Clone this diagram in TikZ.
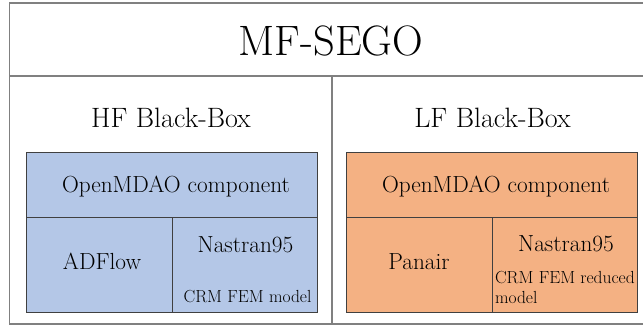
\documentclass[tikz,border=0pt]{standalone}
\definecolor{hfblue}{HTML}{B4C7E7}
\definecolor{lforange}{HTML}{F4B183}
\begin{document}
\begin{tikzpicture}[x=1pt, y=-1pt]
        \tikzstyle{every node}=[inner sep=0pt, outer sep=0pt]
        \tikzstyle{frame}=[draw=black!50, line width=1.1pt]
        \tikzstyle{cell}=[rectangle, draw=black!75, line width=0.9pt]
        \tikzstyle{big}=[anchor=base, font=\fontsize{42.5}{48}\selectfont]
        \tikzstyle{mid}=[anchor=base, font=\fontsize{28}{32}\selectfont]
        \tikzstyle{txt}=[anchor=base, font=\fontsize{23.3}{27}\selectfont]
        \tikzstyle{small}=[anchor=base, font=\fontsize{17.5}{20}\selectfont]
        \useasboundingbox (0,0) rectangle (643,325);
        % outer frame
        \coordinate (tl) at (9.5,3);
        \coordinate (br) at (647,324);
        \coordinate (hl) at (9.5,76);
        \coordinate (hr) at (647,76);
        \coordinate (dt) at (332,76);
        \coordinate (db) at (332,324);
        \draw[frame] (tl) rectangle (br);
        \draw[frame] (hl) -- (hr);
        \draw[frame] (dt) -- (db);
        \node[big] (title) at (331,55) {MF-SEGO};
        % HF black box
        \node[mid] (hftitle) at (171,127) {HF Black-Box};
        \node[cell, fill=hfblue, minimum width=291pt, minimum height=65pt] (hftop) at (171.5,184.5) {};
        \node[cell, fill=hfblue, minimum width=146pt, minimum height=95pt] (hfleft) at (99,264.5) {};
        \node[cell, fill=hfblue, minimum width=145pt, minimum height=95pt] (hfright) at (244.5,264.5) {};
        \node[txt] (hfcomp) at (176,192.5) {OpenMDAO component};
        \node[txt] (hfaero) at (102,269) {ADFlow};
        \node[txt] (hfstruct) at (245.5,252.5) {Nastran95};
        \node[small] (hffem) at (247.5,302) {CRM FEM model};
        % LF black box
        \node[mid] (lftitle) at (492.5,127) {LF Black-Box};
        \node[cell, fill=lforange, minimum width=291pt, minimum height=65pt] (lftop) at (491.5,184.5) {};
        \node[cell, fill=lforange, minimum width=146pt, minimum height=95pt] (lfleft) at (419,264.5) {};
        \node[cell, fill=lforange, minimum width=145pt, minimum height=95pt] (lfright) at (564.5,264.5) {};
        \node[txt] (lfcomp) at (496,192.5) {OpenMDAO component};
        \node[txt] (lfaero) at (419,269) {Panair};
        \node[txt] (lfstruct) at (566,251.7) {Nastran95};
        \node[small, anchor=base west] (lffem) at (495,283) {CRM FEM reduced};
        \node[small, anchor=base west] (lfmodel) at (495,303) {model};
    \end{tikzpicture}
\end{document}
